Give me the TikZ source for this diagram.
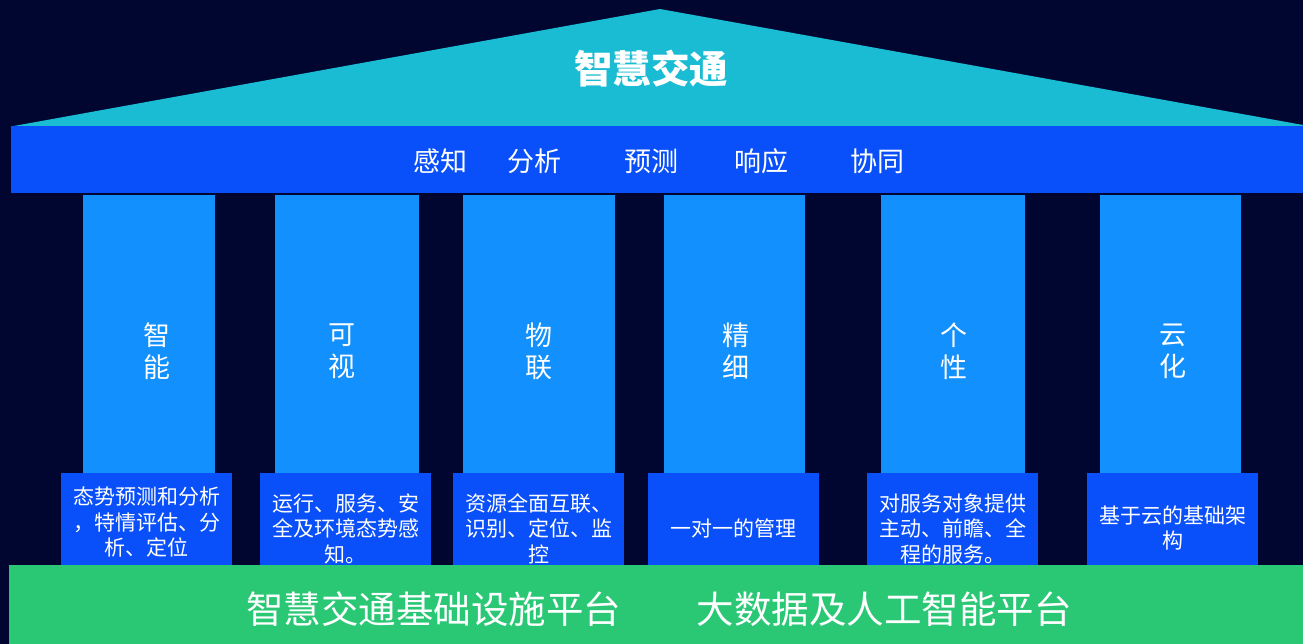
\documentclass[tikz,border=0pt]{standalone}
\usepackage{fontspec}
\setmainfont{Noto Sans CJK SC}
\definecolor{bgnavy}{RGB}{0,6,48}
\definecolor{roofcyan}{RGB}{26,188,211}
\definecolor{beamblue}{RGB}{10,80,250}
\definecolor{colblue}{RGB}{18,144,254}
\definecolor{basegreen}{RGB}{42,199,117}
\tikzset{
  pillar/.style={fill=colblue, draw=none},
  footbox/.style={fill=beamblue, draw=none},
  pillartext/.style={text=white, align=center, inner sep=0pt, font=\fontsize{27}{32}\selectfont},
  foottext/.style={text=white, align=center, inner sep=0pt, font=\fontsize{21}{25.5}\selectfont},
  beamtext/.style={text=white, inner sep=0pt, font=\fontsize{27}{32}\selectfont},
  basetext/.style={text=white, inner sep=0pt, font=\fontsize{37.5}{40}\selectfont},
}
\begin{document}
\begin{tikzpicture}[x=1pt,y=-1pt]
\fill[bgnavy] (0,0) rectangle (1303,644);
\useasboundingbox (0,0) rectangle (1303,644);
% roof
\coordinate (roofL) at (11,126.5);
\coordinate (roofT) at (660,9);
\coordinate (roofR) at (1303,125);
\fill[roofcyan] (roofL) -- (roofT) -- (roofR) -- (1303,128) -- (11,128) -- cycle;
\node[text=white, inner sep=0pt, font=\fontsize{38.5}{40}\selectfont\bfseries] (title) at (651,69) {智慧交通};
% beam
\fill[beamblue] (11,126) rectangle (1303,193);
\node[beamtext] (b1) at (440,161) {感知};
\node[beamtext] (b2) at (534,161) {分析};
\node[beamtext] (b3) at (651,161) {预测};
\node[beamtext] (b4) at (761,161) {响应};
\node[beamtext] (b5) at (877,161) {协同};
% columns
\fill[pillar] (83,195) rectangle (215,473);
\fill[pillar] (275,195) rectangle (419,473);
\fill[pillar] (463,195) rectangle (615,473);
\fill[pillar] (664,195) rectangle (805,473);
\fill[pillar] (881,195) rectangle (1025,473);
\fill[pillar] (1100,195) rectangle (1241,473);
\node[pillartext] (c1) at (156.5,351) {智\\能};
\node[pillartext] (c2) at (342,351) {可\\视};
\node[pillartext] (c3) at (539,351) {物\\联};
\node[pillartext] (c4) at (736,351) {精\\细};
\node[pillartext] (c5) at (954,351) {个\\性};
\node[pillartext] (c6) at (1173,351) {云\\化};
% foot boxes
\fill[footbox] (61,473) rectangle (232,566);
\fill[footbox] (260,473) rectangle (431,566);
\fill[footbox] (453,473) rectangle (624,566);
\fill[footbox] (648,473) rectangle (819,566);
\fill[footbox] (867,473) rectangle (1038,566);
\fill[footbox] (1087,473) rectangle (1258,566);
\node[foottext] (f1) at (146.5,522.5) {态势预测和分析\\，特情评估、分\\析、定位};
\node[foottext] (f2) at (345.5,528.5) {运行、服务、安\\全及环境态势感\\知。};
\node[foottext] (f3) at (538.5,528.5) {资源全面互联、\\识别、定位、监\\控};
\node[foottext] (f4) at (733.5,528) {一对一的管理};
\node[foottext] (f5) at (952.5,528.5) {对服务对象提供\\主动、前瞻、全\\程的服务。};
\node[foottext] (f6) at (1172.5,528) {基于云的基础架\\构};
% base
\fill[basegreen] (9,565) rectangle (1303,644);
\node[basetext] (p1) at (433.5,609) {智慧交通基础设施平台};
\node[basetext] (p2) at (884,609) {大数据及人工智能平台};
\end{tikzpicture}
\end{document}
